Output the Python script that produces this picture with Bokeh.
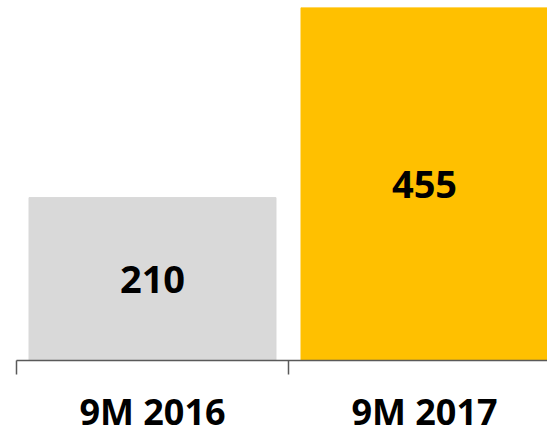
from bokeh.plotting import figure
from bokeh.layouts import column
from bokeh.models import ColumnDataSource, Range1d, FixedTicker
from bokeh.core.properties import value
from bokeh.embed import file_html
from bokeh.resources import INLINE

categories = ["9M 2016", "9M 2017"]
values = [210, 455]
colors = ["#D9D9D9", "#FFC000"]
value_labels = ["210", "455"]

xs = [i + 0.5 for i in range(len(categories))]
src = ColumnDataSource(dict(
    x=xs, top=values, mid=[v / 2 for v in values],
    color=colors, label=value_labels,
))
cat_src = ColumnDataSource(dict(x=xs, y=[24.5] * len(xs), label=categories))

FONT = "Open Sans"
x_range = Range1d(0, 531 / 272)

# --- bars --------------------------------------------------------------
p = figure(width=547, height=375, output_backend="svg", toolbar_location=None,
           x_range=x_range, y_range=Range1d(0, 455),
           y_axis_location=None, min_border_left=16, min_border_right=0,
           min_border_top=7, min_border_bottom=15)
p.outline_line_color = None
p.grid.visible = False
p.background_fill_color = "white"
p.border_fill_color = "white"

p.vbar(x="x", top="top", bottom=0, width=0.908, color="color", source=src)

p.text(x="x", y="mid", text="label", source=src, text_align="center",
       text_baseline="middle", text_font=value(FONT), text_font_style="bold",
       text_font_size="38px", text_color="#000000")

ax = p.xaxis[0]
ax.ticker = FixedTicker(ticks=[], minor_ticks=list(range(len(categories) + 1)))
ax.major_label_standoff = 0
ax.major_tick_line_color = None
ax.major_tick_out = 0
ax.major_tick_in = 0
ax.minor_tick_in = 0
ax.minor_tick_out = 14
ax.minor_tick_line_color = "#595959"
ax.minor_tick_line_width = 1.5
ax.axis_line_color = "#595959"
ax.axis_line_width = 1.5

# --- category labels ---------------------------------------------------
q = figure(width=547, height=60, output_backend="svg", toolbar_location=None,
           x_range=x_range, y_range=Range1d(0, 60),
           x_axis_location=None, y_axis_location=None,
           min_border_left=16, min_border_right=0,
           min_border_top=0, min_border_bottom=0)
q.outline_line_color = None
q.grid.visible = False
q.background_fill_color = "white"
q.border_fill_color = "white"
q.text(x="x", y="y", text="label", source=cat_src, text_align="center",
       text_baseline="middle", text_font=value(FONT), text_font_style="bold",
       text_font_size="36px", text_color="#000000")

layout = column(p, q, spacing=0)
open("out.html", "w").write(file_html(layout, INLINE))
